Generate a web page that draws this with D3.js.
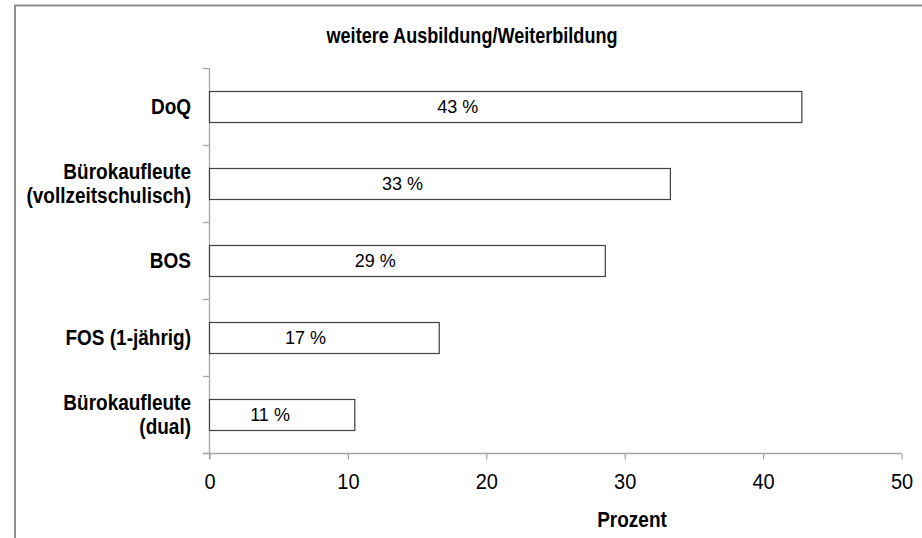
<!DOCTYPE html>
<html>
<head>
<meta charset="utf-8">
<script src="https://cdn.jsdelivr.net/npm/d3@7"></script>
<style>
  html, body { margin: 0; padding: 0; background: #fff; }
  svg { display: block; }
</style>
</head>
<body>
<svg id="chart" width="922" height="538"></svg>
<script>
// ---- data ----
const title = "weitere Ausbildung/Weiterbildung";
const categories = [
  ["DoQ"],
  ["Bürokaufleute", "(vollzeitschulisch)"],
  ["BOS"],
  ["FOS (1-jährig)"],
  ["Bürokaufleute", "(dual)"]
];
const values = [42.8, 33.3, 28.6, 16.6, 10.5];
const xTicks = [0, 10, 20, 30, 40, 50];
const xAxisTitle = "Prozent";

// ---- layout ----
const svg = d3.select("#chart");
const W = 922, H = 538;
const plot = { left: 209, right: 901, top: 68, bottom: 453 };

const x = d3.scaleLinear().domain([0, 50]).range([plot.left, plot.right]);
const y = d3.scaleBand().domain(d3.range(categories.length))
  .range([plot.top, plot.bottom]).paddingInner(0.6).paddingOuter(0.3);

const axisColor = "#a6a6a6";
const font = "Arial, 'Liberation Sans', sans-serif";
const stretch = 1.12; // glyphs in the reference are slightly taller than wide

// outer border
svg.append("line").attr("x1", 14).attr("x2", W).attr("y1", 5.5).attr("y2", 5.5)
  .attr("stroke", "#8f8f8f").attr("stroke-width", 2);
svg.append("line").attr("x1", 15).attr("x2", 15).attr("y1", 5).attr("y2", H)
  .attr("stroke", "#8f8f8f").attr("stroke-width", 2);

// title (condensed, tall like Calibri)
svg.append("text")
  .attr("transform", "translate(472,43) scale(0.86,1.08)")
  .attr("text-anchor", "middle")
  .attr("font-family", font)
  .attr("font-weight", "bold").attr("font-size", 21)
  .attr("fill", "#000").text(title);

// y axis (line + ticks at band boundaries)
const yTickPos = d3.range(categories.length + 1).map(i => plot.top + i * y.step());
svg.append("line").attr("x1", plot.left + 0.5).attr("x2", plot.left + 0.5)
  .attr("y1", plot.top).attr("y2", plot.bottom + 6)
  .attr("stroke", axisColor).attr("stroke-width", 1.3);
svg.selectAll(".ytick").data(yTickPos).join("line")
  .attr("x1", plot.left - 6).attr("x2", plot.left)
  .attr("y1", d => Math.round(d) + 0.5).attr("y2", d => Math.round(d) + 0.5)
  .attr("stroke", axisColor).attr("stroke-width", 1.3);

// x axis
const xAxis = d3.axisBottom(x).tickValues(xTicks).tickSize(6).tickSizeOuter(0).tickPadding(0);
const gx = svg.append("g").attr("transform", `translate(0.5,${plot.bottom + 0.5})`).call(xAxis);
gx.select(".domain").attr("stroke", axisColor).attr("stroke-width", 1.3)
  .attr("d", `M${plot.left - 6.5},0H${plot.right}`);
gx.selectAll(".tick line").attr("stroke", axisColor).attr("stroke-width", 1.3);
gx.selectAll(".tick text").attr("font-family", font).attr("font-size", 20)
  .attr("fill", "#000").attr("y", 0).attr("dy", null)
  .attr("transform", `translate(0,35) scale(1,${stretch})`);

// x axis title
svg.append("text").attr("transform", `translate(632,527) scale(1,${stretch})`)
  .attr("text-anchor", "middle")
  .attr("font-family", font).attr("font-weight", "bold").attr("font-size", 19)
  .attr("fill", "#000").text(xAxisTitle);

// category labels
svg.selectAll(".cat").data(categories).join("text")
  .attr("text-anchor", "end")
  .attr("font-family", font).attr("font-weight", "bold").attr("font-size", 19)
  .attr("fill", "#000")
  .attr("transform", (d, i) => `translate(191,${y(i) + y.bandwidth() / 2}) scale(1,${stretch})`)
  .each(function(lines) {
    const lh = 21.5;
    const t = d3.select(this);
    lines.forEach((ln, j) => {
      t.append("tspan").attr("x", 0)
        .attr("y", 7 + (j - (lines.length - 1) / 2) * lh)
        .text(ln);
    });
  });

// bars
svg.selectAll(".bar").data(values).join("rect")
  .attr("x", x(0) + 0.5)
  .attr("y", (d, i) => Math.round(y(i)) + 0.5)
  .attr("width", d => x(d) - x(0))
  .attr("height", Math.round(y.bandwidth()))
  .attr("fill", "#fff").attr("stroke", "#404040").attr("stroke-width", 1.2);

// value labels
svg.selectAll(".val").data(values).join("text")
  .attr("transform", (d, i) =>
    `translate(${x(0) + (x(d) - x(0)) * 0.42},${y(i) + y.bandwidth() / 2 + 6.5})`)
  .attr("text-anchor", "middle")
  .attr("font-family", font).attr("font-size", 18).attr("fill", "#000")
  .text(d => Math.round(d) + " %");
</script>
</body>
</html>
